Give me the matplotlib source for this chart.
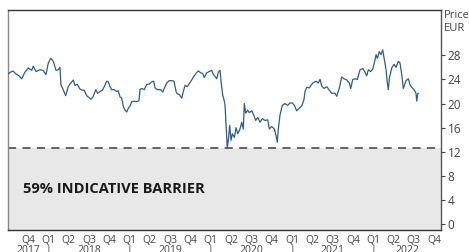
import matplotlib
matplotlib.use("Agg")
import matplotlib.pyplot as plt
import matplotlib.transforms as mtransforms

plt.rcParams['font.family'] = ['Open Sans', 'DejaVu Sans']

# time as decimal year, price in EUR
t = [2017.504, 2017.534, 2017.565, 2017.602, 2017.639, 2017.672, 2017.713, 2017.754,
     2017.796, 2017.815, 2017.849, 2017.898, 2017.935, 2017.972, 2018.000, 2018.030,
     2018.062, 2018.095, 2018.123, 2018.144, 2018.156, 2018.177, 2018.214, 2018.246,
     2018.276, 2018.308, 2018.329, 2018.357, 2018.390, 2018.419, 2018.443, 2018.473,
     2018.501, 2018.526, 2018.554, 2018.584, 2018.608, 2018.637, 2018.665, 2018.690,
     2018.719, 2018.739, 2018.760, 2018.781, 2018.813, 2018.842, 2018.862, 2018.883,
     2018.904, 2018.924, 2018.945, 2018.966, 2018.985, 2019.006, 2019.027, 2019.059,
     2019.089, 2019.117, 2019.129, 2019.150, 2019.182, 2019.212, 2019.240, 2019.273,
     2019.298, 2019.314, 2019.342, 2019.384, 2019.409, 2019.437, 2019.458, 2019.490,
     2019.520, 2019.548, 2019.573, 2019.589, 2019.613, 2019.643, 2019.663, 2019.684,
     2019.712, 2019.736, 2019.766, 2019.786, 2019.819, 2019.847, 2019.877, 2019.901,
     2019.921, 2019.951, 2019.983, 2020.012, 2020.032, 2020.053, 2020.074, 2020.094,
     2020.115, 2020.127, 2020.148, 2020.164, 2020.176, 2020.188, 2020.204, 2020.217,
     2020.234, 2020.250, 2020.266, 2020.291, 2020.312, 2020.333, 2020.361, 2020.382,
     2020.401, 2020.414, 2020.431, 2020.456, 2020.475, 2020.505, 2020.530, 2020.554,
     2020.579, 2020.607, 2020.635, 2020.669, 2020.702, 2020.722, 2020.751, 2020.783,
     2020.804, 2020.820, 2020.833, 2020.853, 2020.882, 2020.915, 2020.948, 2020.977,
     2021.005, 2021.030, 2021.059, 2021.087, 2021.121, 2021.149, 2021.161, 2021.182,
     2021.214, 2021.256, 2021.297, 2021.325, 2021.346, 2021.367, 2021.395, 2021.429,
     2021.461, 2021.490, 2021.531, 2021.552, 2021.584, 2021.613, 2021.642, 2021.675,
     2021.707, 2021.724, 2021.749, 2021.777, 2021.805, 2021.839, 2021.872, 2021.900,
     2021.921, 2021.941, 2021.970, 2021.995, 2022.023, 2022.036, 2022.052, 2022.076,
     2022.097, 2022.118, 2022.134, 2022.159, 2022.175, 2022.187, 2022.200, 2022.229,
     2022.257, 2022.282, 2022.310, 2022.331, 2022.352, 2022.372, 2022.405, 2022.434,
     2022.454, 2022.475, 2022.504, 2022.528, 2022.537, 2022.549, 2022.559]

price = [24.9, 25.2, 25.4, 24.9, 24.6, 24.1, 25.2, 25.9,
         25.5, 26.2, 25.3, 25.6, 25.5, 24.8, 26.7, 27.5,
         27.0, 25.5, 25.6, 26.0, 23.1, 22.5, 21.3, 22.8,
         23.4, 23.9, 23.0, 23.2, 22.4, 22.2, 22.2, 21.3,
         21.0, 20.7, 21.2, 22.3, 21.7, 22.0, 22.2, 22.8,
         23.7, 23.6, 22.8, 22.3, 22.3, 22.0, 22.1, 21.1,
         20.9, 19.5, 18.9, 18.6, 19.2, 19.6, 20.3, 20.4,
         20.3, 20.5, 22.3, 22.5, 22.3, 23.2, 23.2, 23.6,
         23.7, 22.6, 22.3, 22.3, 21.9, 22.8, 23.4, 23.8,
         23.8, 23.7, 22.0, 21.6, 21.5, 20.9, 22.0, 23.0,
         22.8, 23.3, 23.9, 24.4, 25.0, 25.4, 25.1, 25.0,
         24.3, 25.1, 25.3, 25.5, 24.8, 24.5, 24.1, 25.2,
         25.5, 23.7, 21.4, 20.6, 19.8, 16.7, 12.6, 13.9,
         16.4, 13.9, 15.0, 14.4, 16.0, 15.0, 15.8, 16.9,
         15.8, 20.0, 18.4, 18.9, 18.5, 18.8, 18.1, 17.2,
         17.7, 16.9, 17.5, 17.2, 17.3, 15.8, 16.2, 15.8,
         14.7, 13.6, 15.8, 18.1, 19.7, 20.0, 19.7, 20.1,
         20.1, 19.7, 18.8, 19.2, 19.6, 20.7, 22.0, 22.7,
         22.6, 23.4, 23.7, 23.4, 24.0, 22.9, 22.5, 22.8,
         22.2, 21.7, 21.7, 21.2, 22.6, 24.4, 24.1, 23.9,
         23.4, 22.5, 24.0, 24.1, 24.0, 25.6, 25.8, 25.2,
         24.6, 25.6, 25.3, 25.7, 27.2, 28.1, 27.5, 28.6,
         28.1, 28.9, 27.6, 25.6, 23.4, 22.3, 24.2, 25.9,
         26.5, 26.0, 27.0, 26.7, 24.8, 22.5, 23.8, 24.1,
         23.1, 22.7, 22.3, 21.7, 20.4, 21.6, 21.7]

barrier = 12.6
barrier_label = "59% INDICATIVE BARRIER"

quarter_pos = [2017.75, 2018.0, 2018.25, 2018.5, 2018.75, 2019.0, 2019.25, 2019.5,
               2019.75, 2020.0, 2020.25, 2020.5, 2020.75, 2021.0, 2021.25, 2021.5,
               2021.75, 2022.0, 2022.25, 2022.5, 2022.75]
quarter_lbl = ["Q4", "Q1", "Q2", "Q3", "Q4", "Q1", "Q2", "Q3", "Q4", "Q1", "Q2",
               "Q3", "Q4", "Q1", "Q2", "Q3", "Q4", "Q1", "Q2", "Q3", "Q4"]
years = ["2017", "2018", "2019", "2020", "2021", "2022"]
year_pos = [2017.75, 2018.5, 2019.5, 2020.5, 2021.5, 2022.42]
year_breaks = [2018.0, 2019.0, 2020.0, 2021.0, 2022.0]
yticks = [0, 4, 8, 12, 16, 20, 24, 28]

x0, x1 = 2017.504, 2022.832
y0, y1 = -1.0, 35.5

fig = plt.figure(figsize=(4.69, 2.52), dpi=100)
ax = fig.add_axes([8 / 469, 1 - 230.3 / 252, 432.7 / 469, 220.3 / 252])

ax.axhspan(y0, barrier, color="#e8e8e8", zorder=0, lw=0)
ax.axhline(barrier, color="#5a5a5a", lw=1.3, ls=(0, (4.5, 3.5)), zorder=2)
ax.plot(t, price, color="#2b5f8e", lw=0.9, zorder=3)

ax.text(2017.69, 5.9, barrier_label, fontsize=10.5, fontweight="bold",
        color="#1a1a1a", va="center", ha="left")

ax.set_xlim(x0, x1)
ax.set_ylim(y0, y1)

# right-hand price axis
ax.yaxis.tick_right()
ax.set_yticks(yticks)
ax.set_yticklabels([str(v) for v in yticks])
ax.tick_params(axis="y", length=3, width=0.8, color="#444444", pad=2,
               labelsize=8.5, labelcolor="#444444")
ax.text(1.008, 1.0, "Price\nEUR", transform=ax.transAxes, fontsize=8,
        color="#444444", va="top", ha="left", linespacing=1.25)

# quarter labels + year row
ax.set_xticks(quarter_pos)
ax.set_xticklabels(quarter_lbl)
ax.tick_params(axis="x", length=0, pad=3.5, labelsize=7.5, labelcolor="#444444")
trans = mtransforms.blended_transform_factory(ax.transData, ax.transAxes)
for yr, xp in zip(years, year_pos):
    ax.text(xp, -0.066, yr, transform=trans, fontsize=7.5, color="#444444",
            ha="center", va="top", clip_on=False)
for xp in year_breaks:
    ax.text(xp, -0.066, "|", transform=trans, fontsize=7.5, color="#444444",
            ha="center", va="top", clip_on=False)

for side in ["top", "bottom"]:
    ax.spines[side].set_color("#333333")
    ax.spines[side].set_linewidth(1.0)
ax.spines["right"].set_color("#555555")
ax.spines["right"].set_linewidth(1.0)
ax.spines["left"].set_color("#888888")
ax.spines["left"].set_linewidth(1.0)

fig.savefig("out.png", dpi=100)
